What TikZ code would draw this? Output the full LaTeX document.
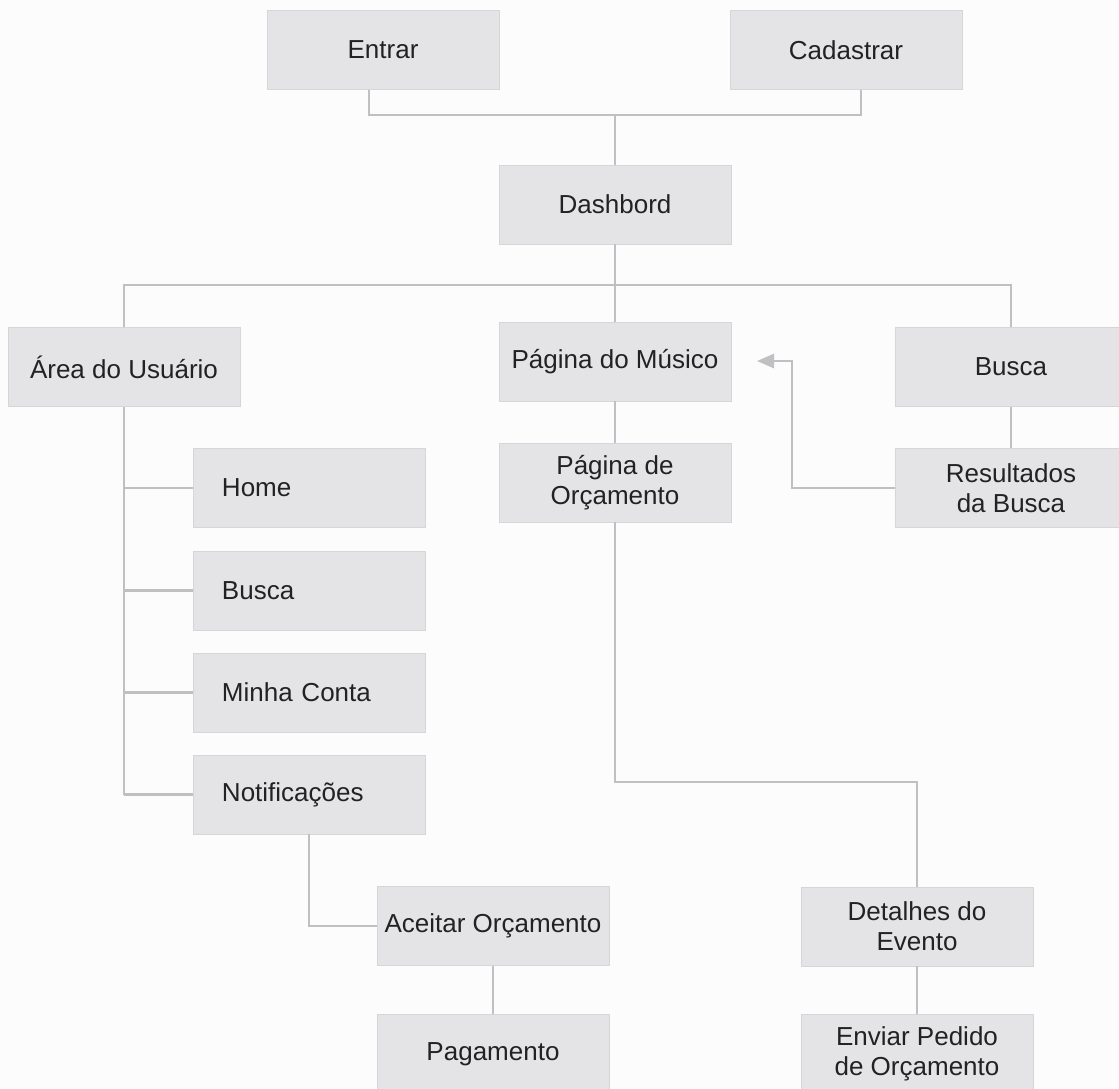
\documentclass[tikz,border=0pt]{standalone}
\usepackage{fontspec}
\setmainfont{Liberation Sans}
\usetikzlibrary{arrows.meta}
\definecolor{boxfill}{RGB}{228,228,230}
\definecolor{boxedge}{RGB}{214,214,216}
\definecolor{linkgray}{RGB}{192,192,194}
\definecolor{inkgray}{RGB}{34,34,34}
\definecolor{paper}{RGB}{252,252,252}
\begin{document}
\begin{tikzpicture}[x=0.025cm,y=-0.025cm,
    page/.style={draw=boxedge,line width=0.4pt,fill=boxfill,text=inkgray,
      minimum width=5.8cm,minimum height=1.975cm,inner sep=0pt,align=center,
      font=\fontsize{18.5}{21.3}\selectfont},
    subpage/.style={page,text width=4.35cm,inner xsep=0.725cm,align=left},
    link/.style={draw=linkgray,line width=1.5pt}]
    \useasboundingbox (0,0) rectangle (1119,1088);
    \fill[paper] (0,0) rectangle (1119,1088);
    \clip (0,0) rectangle (1119,1088);
    % top row
    \node[page] (entrar) at (383,50) {Entrar};
    \node[page] (cadastrar) at (846,50) {Cadastrar};
    \node[page] (dash) at (615,204.5) {Dashbord};
    % main sections
    \node[page] (area) at (124,367) {Área do Usuário};
    \node[page] (musico) at (615,361.5) {Página do Músico};
    \node[page] (buscar) at (1011,367) {Busca};
    \node[page] (pgorc) at (615,482.5) {Página de\\Orçamento};
    \node[page] (result) at (1011,488) {Resultados\\da Busca};
    % user area
    \node[subpage] (home) at (309,488) {Home};
    \node[subpage] (busca) at (309,590.5) {Busca};
    \node[subpage] (conta) at (309,692.5) {Minha Conta};
    \node[subpage] (notif) at (309,794.5) {Notificações};
    \node[page] (aceitar) at (493,926) {Aceitar Orçamento};
    \node[page] (pagam) at (493,1054) {Pagamento};
    % budget request
    \node[page] (detalhes) at (917,926.5) {Detalhes do\\Evento};
    \node[page] (enviar) at (917,1054) {Enviar Pedido\\de Orçamento};
    \coordinate (jtop) at (615,115);
    \coordinate (jmid) at (615,285);
    \coordinate (bend) at (792,361);
    \coordinate (tipmus) at (757,361);
    \coordinate (elbowe) at (917,782);
    \draw[link] ([xshift=-0.35cm]entrar.south) |- (jtop) -| ([xshift=0.375cm]cadastrar.south);
    \draw[link] (jtop) -- (dash.north);
    \draw[link] (dash.south) -- (jmid);
    \draw[link] (area.north) |- (jmid) -| (buscar.north);
    \draw[link] (jmid) -- (musico.north);
    \draw[link] (musico.south) -- (pgorc.north);
    \draw[link] (buscar.south) -- (result.north);
    \draw[link,-{Triangle[length=0.43cm,width=0.36cm]}] (result.west) -| (bend) -- (tipmus);
    \draw[link] (area.south) -- (area.south |- notif.west);
    \foreach \n in {home,busca,conta,notif}
      \draw[link] (area.south |- \n.west) -- (\n.west);
    \draw[link] (notif.south) |- (aceitar.west);
    \draw[link] (aceitar.south) -- (pagam.north);
    \draw[link] (pgorc.south) |- (elbowe) -- (detalhes.north);
    \draw[link] (detalhes.south) -- (enviar.north);
\end{tikzpicture}
\end{document}
